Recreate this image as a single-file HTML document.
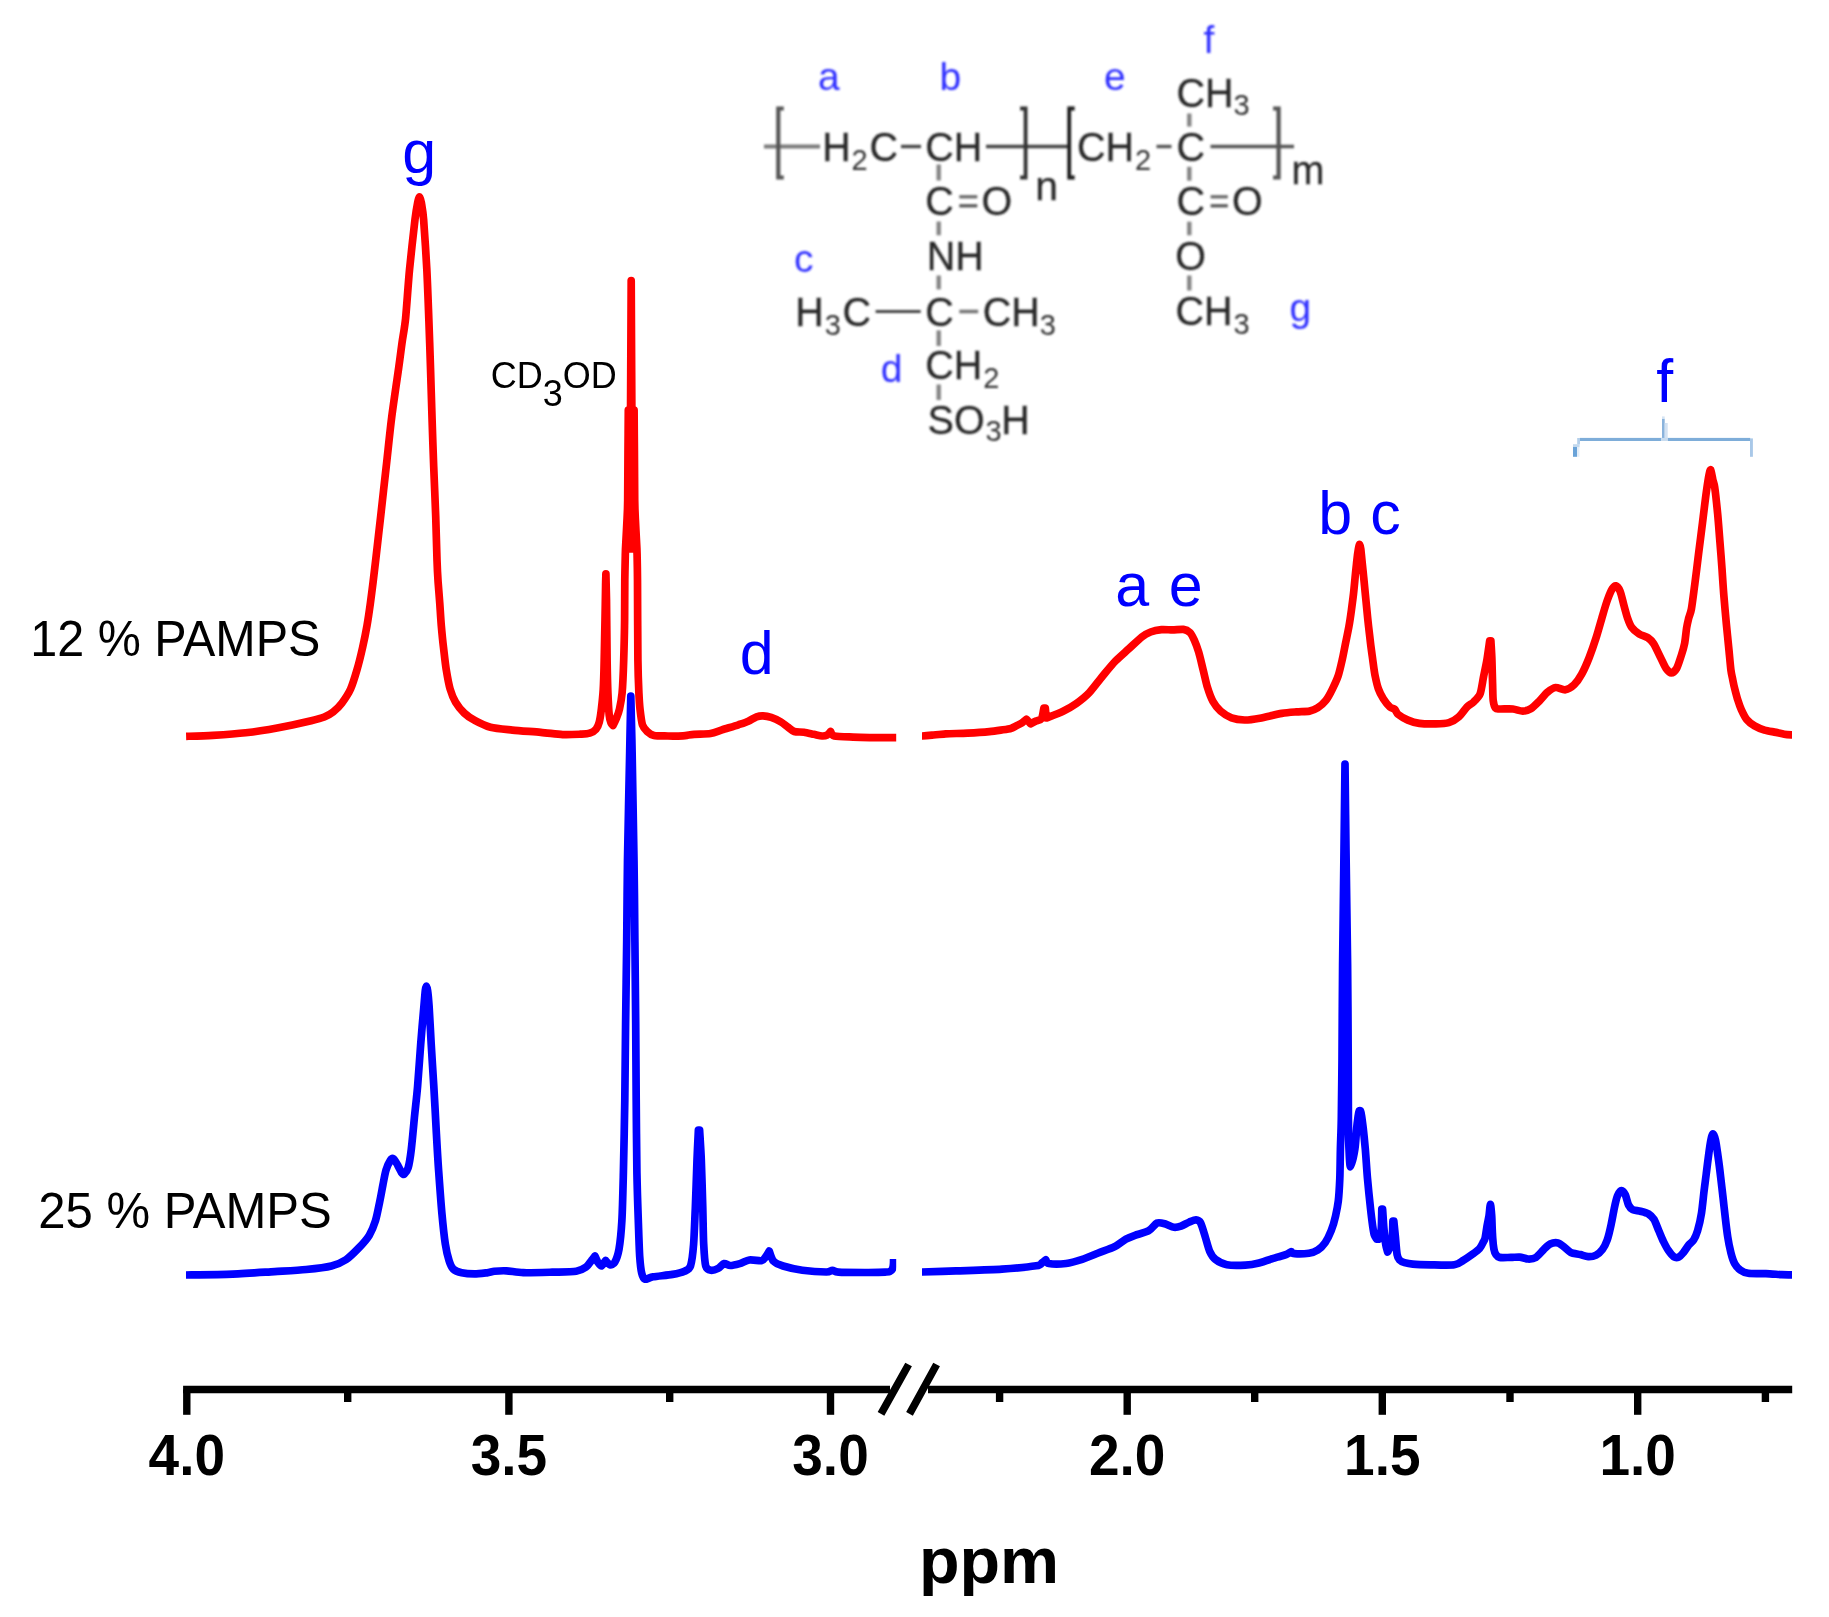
<!DOCTYPE html>
<html lang="en"><head><meta charset="utf-8"><title>1H NMR spectra of PAMPS copolymers</title>
<style>html,body{margin:0;padding:0;background:#fff}body{width:1829px;height:1617px;overflow:hidden}svg{display:block}text{font-family:"Liberation Sans",Arial,Helvetica,sans-serif}.ax{font-weight:bold;font-size:55px;text-anchor:middle;fill:#000}.pk{font-size:61px;fill:#0000ff}.lb{font-size:48.5px;fill:#000}.st{font-size:39.5px;fill:#262626;stroke:#262626;stroke-width:0.25px}.sb{font-size:29px;fill:#333}.sl{font-size:39px;fill:#2e2eff}</style></head><body>
<svg width="1829" height="1617" viewBox="0 0 1829 1617">
<rect width="1829" height="1617" fill="#fff"/>
<defs><filter id="bl" x="-5%" y="-5%" width="110%" height="110%"><feGaussianBlur stdDeviation="0.85"/></filter></defs>
<g filter="url(#bl)">
<g stroke="#666" stroke-width="4" fill="none">
<line x1="764" y1="146.5" x2="820" y2="146.5" stroke="#7a7a7a" stroke-width="3.8"/>
<line x1="901" y1="146.5" x2="921" y2="146.5" stroke="#444" stroke-width="3.4"/>
<line x1="986" y1="146.5" x2="1068" y2="146.5" stroke="#444" stroke-width="3.4"/>
<line x1="1156.5" y1="146.5" x2="1171.5" y2="146.5" stroke="#555" stroke-width="3.4"/>
<line x1="1210.5" y1="146.5" x2="1294" y2="146.5" stroke="#555" stroke-width="3.4"/>
<line x1="938.7" y1="164.5" x2="938.7" y2="180.5" stroke="#858585" stroke-width="4.4"/>
<line x1="938.7" y1="221.5" x2="938.7" y2="235.3" stroke="#858585" stroke-width="4.4"/>
<line x1="938.7" y1="275.5" x2="938.7" y2="289.4" stroke="#858585" stroke-width="4.4"/>
<line x1="938.7" y1="330.4" x2="938.7" y2="346.0" stroke="#858585" stroke-width="4.4"/>
<line x1="938.7" y1="384.5" x2="938.7" y2="400.0" stroke="#858585" stroke-width="4.4"/>
<line x1="1189.3" y1="113.5" x2="1189.3" y2="126.6" stroke="#858585" stroke-width="4.4"/>
<line x1="1189.3" y1="166.8" x2="1189.3" y2="180.7" stroke="#858585" stroke-width="4.4"/>
<line x1="1189.3" y1="221.7" x2="1189.3" y2="235.3" stroke="#858585" stroke-width="4.4"/>
<line x1="1189.3" y1="275.5" x2="1189.3" y2="290.5" stroke="#858585" stroke-width="4.4"/>
<line x1="875.6" y1="311.5" x2="920.7" y2="311.5" stroke="#444" stroke-width="3.2"/>
<line x1="959.3" y1="311.5" x2="978.2" y2="311.5" stroke="#777" stroke-width="3.6"/>
<line x1="959.3" y1="196.8" x2="977.3" y2="196.8" stroke="#666" stroke-width="3.2"/>
<line x1="959.3" y1="205.8" x2="977.3" y2="205.8" stroke="#555" stroke-width="3.2"/>
<line x1="1210.6" y1="196.8" x2="1227.8" y2="196.8" stroke="#666" stroke-width="3.2"/>
<line x1="1210.6" y1="205.8" x2="1227.8" y2="205.8" stroke="#555" stroke-width="3.2"/>
</g>
<path d="M783.8 108.5H778.3V177.5H783.8" fill="none" stroke="#555" stroke-width="4.2"/>
<path d="M1020.1 108.5H1025.6V177.5H1020.1" fill="none" stroke="#333" stroke-width="3.8"/>
<path d="M1074.7 108.5H1069.2V177.5H1074.7" fill="none" stroke="#1a1a1a" stroke-width="3.8"/>
<path d="M1273.1 108.5H1278.6V177.5H1273.1" fill="none" stroke="#555" stroke-width="4.2"/>
<text class="st" transform="translate(822.3 160.7) scale(1 1.04)">H</text>
<text class="sb" transform="translate(851.5 169.6) scale(1 1.04)">2</text>
<text class="st" transform="translate(869.5 160.7) scale(1 1.04)">C</text>
<text class="st" transform="translate(925.3 160.7) scale(1 1.04)">CH</text>
<text class="st" transform="translate(1077.0 160.7) scale(1 1.04)">CH</text>
<text class="sb" transform="translate(1135.0 169.6) scale(1 1.04)">2</text>
<text class="st" transform="translate(1176.6 160.7) scale(1 1.04)">C</text>
<text class="st" x="1035.3" y="200.4" style="font-size:41px">n</text>
<text class="st" transform="translate(1291.5 184.0) scale(1 1.04)">m</text>
<text class="st" transform="translate(1176.6 106.6) scale(1 1.04)">CH</text>
<text class="sb" transform="translate(1233.5 115.3) scale(1 1.04)">3</text>
<text class="st" transform="translate(925.3 215.4) scale(1 1.04)">C</text>
<text class="st" transform="translate(981.5 215.4) scale(1 1.04)">O</text>
<text class="st" transform="translate(1176.6 215.4) scale(1 1.04)">C</text>
<text class="st" transform="translate(1232.0 215.4) scale(1 1.04)">O</text>
<text class="st" transform="translate(926.8 269.7) scale(1 1.04)">NH</text>
<text class="st" transform="translate(1175.3 270.0) scale(1 1.04)">O</text>
<text class="st" transform="translate(795.3 326.0) scale(1 1.04)">H</text>
<text class="sb" transform="translate(824.8 334.6) scale(1 1.04)">3</text>
<text class="st" transform="translate(842.5 326.0) scale(1 1.04)">C</text>
<text class="st" transform="translate(925.3 326.0) scale(1 1.04)">C</text>
<text class="st" transform="translate(982.7 326.0) scale(1 1.04)">CH</text>
<text class="sb" transform="translate(1039.7 334.6) scale(1 1.04)">3</text>
<text class="st" transform="translate(1175.4 325.0) scale(1 1.04)">CH</text>
<text class="sb" transform="translate(1233.6 333.8) scale(1 1.04)">3</text>
<text class="st" transform="translate(925.3 378.8) scale(1 1.04)">CH</text>
<text class="sb" transform="translate(983.2 388.2) scale(1 1.04)">2</text>
<text class="st" transform="translate(927.6 433.7) scale(1 1.04)">SO</text>
<text class="sb" transform="translate(985.5 441.2) scale(1 1.04)">3</text>
<text class="st" transform="translate(1001.3 433.7) scale(1 1.04)">H</text>
<text class="sl" transform="translate(818.0 89.6) scale(1 1.00)">a</text>
<text class="sl" transform="translate(939.5 89.6) scale(1 1.00)">b</text>
<text class="sl" transform="translate(1104.0 89.6) scale(1 1.00)">e</text>
<text class="sl" transform="translate(1203.5 52.6) scale(1 1.00)">f</text>
<text class="sl" transform="translate(794.0 272.0) scale(1 1.00)">c</text>
<text class="sl" transform="translate(880.8 382.0) scale(1 1.00)">d</text>
<text class="sl" transform="translate(1289.5 321.3) scale(1 1.00)">g</text>
</g>
<clipPath id="cl"><rect x="185.9" y="0" width="710.3" height="1340"/></clipPath>
<clipPath id="cr"><rect x="921.9" y="0" width="870.2" height="1340"/></clipPath>
<g clip-path="url(#cl)"><path d="M186.1 736.3C189.7 736.2 204.9 735.9 212.8 735.4C220.7 734.9 236.9 733.8 245.6 732.8C254.3 731.8 269.7 729.3 278.4 727.7C287.1 726.1 305.1 722.1 311.2 720.7C317.3 719.3 321.4 718.2 324.3 717.0C327.2 715.8 330.8 713.8 333.1 712.0C335.4 710.2 339.5 706.3 341.8 703.2C344.1 700.1 348.6 693.5 350.6 689.0C352.6 684.5 355.5 674.9 357.1 669.4C358.7 663.9 361.3 653.3 362.6 647.5C363.9 641.7 366.0 631.4 367.0 625.6C368.0 619.8 369.5 609.5 370.3 603.7C371.1 597.9 372.4 587.7 373.1 581.9C373.8 576.1 374.7 568.8 375.7 560.0C376.7 551.2 379.3 528.5 380.7 516.1C382.1 503.7 384.7 479.9 386.2 466.7C387.7 453.5 390.0 430.4 391.7 417.2C393.4 404.0 397.3 377.7 398.7 367.8C400.1 357.9 401.1 349.6 402.0 343.0C402.9 336.4 404.6 328.2 405.6 318.3C406.6 308.4 408.3 282.1 409.6 268.9C410.9 255.7 413.9 228.2 415.0 219.4C416.1 210.6 417.0 206.0 417.6 203.0C418.2 200.0 419.0 196.8 419.5 196.8C420.0 196.8 420.9 200.0 421.4 203.0C421.9 206.0 422.9 210.6 423.6 219.4C424.3 228.2 426.1 255.7 426.8 268.9C427.5 282.1 428.3 305.1 428.8 318.3C429.3 331.5 430.1 354.6 430.5 367.8C430.9 381.0 431.6 404.0 432.0 417.2C432.4 430.4 433.2 453.5 433.7 466.7C434.2 479.9 435.3 503.7 435.7 516.1C436.1 528.5 436.7 551.2 437.0 560.0C437.3 568.8 437.7 576.1 438.1 581.9C438.5 587.7 439.4 597.9 439.8 603.7C440.2 609.5 440.8 619.8 441.3 625.6C441.8 631.4 442.8 641.7 443.5 647.5C444.2 653.3 445.3 663.9 446.2 669.4C447.1 674.9 448.8 684.6 450.1 689.0C451.4 693.4 453.7 699.0 455.6 702.2C457.5 705.4 461.7 710.6 464.3 713.1C466.9 715.6 471.7 718.8 475.2 720.7C478.7 722.6 485.5 726.0 490.5 727.3C495.5 728.6 505.7 729.4 512.4 730.1C519.1 730.8 534.1 731.7 540.8 732.3C547.5 732.9 557.5 734.3 562.7 734.6C567.9 734.9 576.4 734.4 580.0 734.2C583.6 734.0 587.6 733.9 589.7 733.2C591.8 732.5 594.7 730.7 596.0 729.2C597.3 727.7 598.6 724.8 599.3 722.0C600.0 719.2 601.0 712.3 601.5 708.0C602.0 703.7 602.8 696.4 603.2 690.0C603.6 683.6 604.0 669.3 604.2 660.0C604.4 650.7 604.8 630.0 605.0 620.0C605.2 610.0 605.5 591.2 605.6 585.0C605.7 578.8 605.9 575.3 605.9 573.8C606.0 577.3 606.3 588.5 606.5 600.0C606.7 611.5 606.9 647.6 607.1 660.0C607.3 672.4 607.6 685.7 607.9 693.0C608.2 700.3 608.8 711.0 609.2 715.0C609.6 719.0 610.5 721.6 611.0 723.0C611.5 724.4 612.7 725.2 613.0 725.5C613.5 724.5 615.6 720.2 616.5 718.0C617.4 715.8 618.8 712.3 619.5 709.0C620.2 705.7 621.5 699.5 622.1 693.0C622.7 686.5 623.4 669.7 623.7 660.0C624.0 650.3 624.5 630.7 624.6 620.0C624.7 609.3 624.7 588.7 624.8 580.0C624.9 571.3 625.2 559.9 625.3 555.0C625.4 550.1 625.7 544.6 625.8 543.0C626.0 539.9 626.7 525.7 627.0 520.0C627.3 514.3 627.6 509.3 627.7 500.0C627.8 490.7 627.9 462.0 628.0 450.0C628.1 438.0 628.3 415.3 628.3 410.0C628.4 419.3 628.8 461.5 629.0 480.0C629.2 498.5 629.7 539.8 629.8 549.0C629.9 531.8 630.3 455.8 630.5 420.0C630.7 384.2 631.1 299.1 631.2 280.5C631.3 299.1 631.7 384.2 631.9 420.0C632.1 455.8 632.5 531.8 632.6 549.0C632.7 539.8 633.2 498.5 633.4 480.0C633.6 461.5 634.0 419.3 634.1 410.0C634.1 415.3 634.3 438.0 634.4 450.0C634.5 462.0 634.6 490.7 634.7 500.0C634.8 509.3 635.1 514.3 635.4 520.0C635.7 525.7 636.4 539.9 636.6 543.0C636.7 544.6 637.0 550.0 637.1 555.0C637.2 560.0 637.4 566.4 637.5 580.4C637.6 594.4 637.7 645.0 637.9 660.0C638.1 675.0 638.6 686.5 638.9 693.0C639.2 699.5 639.5 704.7 640.0 709.0C640.5 713.3 641.5 722.0 642.5 725.0C643.5 728.0 645.8 730.2 647.3 731.6C648.8 733.0 651.2 734.8 654.0 735.4C656.8 736.0 664.1 735.9 668.0 736.0C671.9 736.1 679.5 736.0 683.0 735.8C686.5 735.6 690.4 734.6 694.1 734.3C697.8 734.0 706.8 734.1 710.5 733.5C714.2 732.9 718.3 731.1 722.0 729.9C725.7 728.7 734.9 726.0 738.4 724.8C741.9 723.6 745.9 722.3 748.3 721.2C750.7 720.1 754.5 717.5 756.5 716.8C758.5 716.1 761.0 715.7 763.0 715.8C765.0 715.9 768.8 716.6 771.2 717.4C773.6 718.2 778.8 720.7 781.0 722.0C783.2 723.3 785.8 725.6 787.6 726.9C789.4 728.2 792.0 730.8 794.2 731.5C796.4 732.2 801.4 731.8 804.0 732.2C806.6 732.6 811.5 733.8 813.9 734.3C816.3 734.8 820.4 735.9 822.1 736.0C823.8 736.1 825.9 735.7 827.0 735.1C828.1 734.5 830.1 732.0 830.6 731.5C831.1 732.1 831.4 735.3 834.4 736.0C837.4 736.7 848.5 736.9 853.2 737.1C857.9 737.3 865.2 737.5 869.6 737.6C874.0 737.7 882.1 737.6 886.0 737.6C889.9 737.6 897.3 737.6 899.0 737.6" fill="none" stroke="#ff0000" stroke-width="7.7" stroke-linejoin="round" stroke-linecap="butt"/></g>
<g clip-path="url(#cr)"><path d="M918.0 736.2C918.5 736.2 920.1 736.1 922.0 736.0C923.9 735.9 928.9 735.5 932.0 735.2C935.1 734.9 940.9 734.1 945.6 733.8C950.3 733.5 961.7 733.5 967.5 733.2C973.3 732.9 984.7 732.1 989.4 731.6C994.1 731.1 1000.1 730.2 1003.0 729.8C1005.9 729.4 1009.4 728.9 1011.2 728.3C1013.0 727.7 1015.3 726.3 1016.7 725.6C1018.1 724.9 1020.7 723.7 1022.0 722.8C1023.3 721.9 1025.9 719.7 1026.5 719.2L1030.5 723.8C1031.2 723.4 1034.5 721.7 1036.0 721.0C1037.5 720.3 1040.4 720.3 1041.5 718.6C1042.6 716.9 1043.6 709.4 1043.9 708.0L1045.3 708.0L1046.2 718.0C1046.5 717.9 1045.9 718.2 1048.2 717.3C1050.5 716.4 1059.4 713.0 1063.1 711.2C1066.8 709.4 1072.7 706.1 1076.2 703.6C1079.7 701.1 1085.8 696.3 1089.3 692.6C1092.8 688.9 1099.0 680.4 1102.5 676.2C1106.0 672.0 1112.1 664.5 1115.6 660.9C1119.1 657.3 1125.2 652.1 1128.7 648.9C1132.2 645.7 1138.9 639.2 1141.8 636.9C1144.7 634.6 1148.0 633.0 1150.6 632.0C1153.2 631.0 1158.6 629.9 1161.5 629.6C1164.4 629.3 1169.5 629.9 1172.4 629.9C1175.3 629.9 1181.1 629.1 1183.4 629.4C1185.7 629.7 1188.4 631.1 1189.9 632.5C1191.4 633.9 1193.1 637.5 1194.3 640.1C1195.5 642.7 1197.5 648.3 1198.7 652.2C1199.9 656.1 1201.9 665.0 1203.1 669.7C1204.3 674.4 1206.1 683.0 1207.4 687.2C1208.7 691.4 1211.1 698.2 1212.9 701.4C1214.7 704.6 1218.1 709.0 1220.6 711.2C1223.1 713.4 1228.3 716.6 1231.5 717.8C1234.7 719.0 1240.8 719.9 1244.6 720.0C1248.4 720.1 1254.9 719.1 1259.9 718.2C1264.9 717.3 1276.9 714.2 1281.8 713.4C1286.7 712.6 1292.7 712.2 1296.4 711.9C1300.1 711.6 1306.7 711.6 1309.5 711.1C1312.3 710.6 1315.5 709.2 1317.7 707.8C1319.9 706.4 1323.9 702.9 1325.9 700.4C1327.9 697.9 1330.9 692.2 1332.5 688.9C1334.1 685.6 1336.9 679.7 1338.2 675.8C1339.5 671.9 1341.3 663.8 1342.3 659.4C1343.3 655.0 1344.7 647.4 1345.6 643.0C1346.5 638.6 1348.1 631.0 1348.9 626.6C1349.7 622.2 1350.8 614.6 1351.4 610.2C1352.0 605.8 1353.0 598.2 1353.5 593.8C1354.0 589.4 1354.7 581.8 1355.1 577.4C1355.5 573.0 1356.4 564.8 1356.8 561.0C1357.2 557.2 1358.0 551.2 1358.4 549.0C1358.8 546.8 1359.3 544.4 1359.6 544.4C1359.9 544.4 1360.5 546.8 1360.8 549.0C1361.1 551.2 1361.6 557.2 1362.0 561.0C1362.4 564.8 1363.3 573.0 1363.7 577.4C1364.1 581.8 1364.9 589.4 1365.3 593.8C1365.7 598.2 1366.5 605.8 1366.9 610.2C1367.3 614.6 1368.1 622.2 1368.6 626.6C1369.1 631.0 1370.0 638.6 1370.5 643.0C1371.0 647.4 1372.1 655.0 1372.7 659.4C1373.3 663.8 1374.3 671.9 1375.1 675.8C1375.9 679.7 1377.3 685.8 1378.4 688.9C1379.5 692.0 1381.8 696.4 1383.3 698.8C1384.8 701.2 1388.4 705.6 1389.9 707.0C1391.4 708.4 1393.7 708.4 1394.8 709.4C1395.9 710.4 1396.4 713.0 1398.1 714.4C1399.8 715.8 1405.1 718.9 1407.9 720.1C1410.7 721.3 1415.7 722.9 1419.4 723.4C1423.1 723.9 1431.9 724.0 1435.8 723.9C1439.7 723.8 1445.8 723.5 1448.9 722.6C1452.0 721.7 1456.4 718.9 1458.8 716.8C1461.2 714.7 1465.0 709.0 1467.0 707.0C1469.0 705.0 1471.8 703.8 1473.5 702.1C1475.2 700.4 1478.8 697.2 1480.1 693.9C1481.4 690.6 1482.5 682.1 1483.4 677.5C1484.3 672.9 1486.2 664.3 1487.0 659.4C1487.8 654.5 1489.3 643.3 1489.7 640.8L1490.9 640.8C1491.0 643.3 1491.7 653.6 1491.9 659.4C1492.1 665.2 1492.4 678.5 1492.6 684.0C1492.8 689.5 1492.8 697.2 1493.2 700.4C1493.6 703.6 1494.8 707.2 1495.7 708.3C1496.6 709.4 1497.5 708.9 1499.8 709.0C1502.1 709.1 1509.8 708.7 1512.9 709.0C1516.0 709.3 1520.4 711.2 1522.8 711.1C1525.2 711.0 1528.8 709.9 1531.0 708.6C1533.2 707.3 1537.0 703.4 1539.2 701.2C1541.4 699.0 1545.2 694.0 1547.4 692.2C1549.6 690.4 1553.2 687.8 1555.6 687.5C1558.0 687.2 1562.9 690.2 1565.4 689.8C1567.9 689.4 1571.9 686.9 1574.1 684.8C1576.3 682.7 1579.7 677.9 1581.7 674.2C1583.7 670.5 1587.5 661.9 1589.4 657.0C1591.3 652.1 1594.3 643.4 1596.1 637.8C1597.9 632.2 1601.3 619.9 1602.8 614.8C1604.3 609.7 1606.3 603.0 1607.6 599.5C1608.9 596.0 1611.3 590.4 1612.4 588.6C1613.5 586.8 1614.7 585.5 1615.7 585.8C1616.7 586.1 1619.0 588.6 1620.1 591.2C1621.2 593.8 1622.9 601.5 1623.9 605.2C1624.9 608.9 1626.7 615.7 1627.7 618.6C1628.7 621.5 1630.1 625.2 1631.6 627.3C1633.1 629.4 1637.0 632.6 1639.2 634.0C1641.4 635.4 1646.0 636.5 1647.9 637.8C1649.8 639.1 1651.9 641.0 1653.6 643.6C1655.3 646.2 1658.6 653.7 1660.3 657.0C1662.0 660.3 1664.6 666.4 1666.1 668.5C1667.6 670.6 1669.8 672.9 1671.2 672.9C1672.6 672.9 1675.2 670.9 1676.6 668.5C1678.0 666.1 1680.3 658.4 1681.4 655.1C1682.5 651.8 1683.9 647.2 1684.6 643.6C1685.3 640.0 1686.1 631.3 1686.6 628.0C1687.1 624.7 1688.0 621.0 1688.6 618.5C1689.2 616.0 1690.6 613.6 1691.4 609.0C1692.2 604.4 1693.8 591.6 1694.8 584.2C1695.8 576.8 1697.6 561.7 1698.6 553.5C1699.6 545.3 1701.5 531.0 1702.5 522.8C1703.5 514.6 1705.4 498.6 1706.3 492.2C1707.2 485.8 1708.4 478.0 1709.0 475.0C1709.6 472.0 1710.2 469.2 1710.7 469.8C1711.2 470.4 1712.3 477.2 1712.8 479.5C1713.3 481.8 1714.0 482.5 1714.7 487.2C1715.4 491.9 1717.0 507.1 1717.7 514.4C1718.4 521.7 1719.3 534.3 1719.9 541.6C1720.5 548.9 1721.5 561.5 1722.0 568.8C1722.5 576.1 1723.3 588.8 1723.9 596.1C1724.5 603.4 1725.6 616.0 1726.3 623.3C1727.0 630.6 1728.4 644.3 1729.0 650.5C1729.6 656.7 1730.4 666.1 1730.9 670.0C1731.4 673.9 1732.3 677.3 1732.8 679.9C1733.3 682.5 1734.3 687.2 1735.0 689.8C1735.7 692.4 1736.9 697.1 1737.7 699.7C1738.5 702.3 1740.1 707.0 1741.3 709.6C1742.5 712.2 1744.9 717.3 1746.7 719.5C1748.5 721.7 1752.2 724.5 1754.6 725.9C1757.0 727.3 1761.9 729.3 1764.5 730.1C1767.1 730.9 1771.8 731.6 1774.4 732.1C1777.0 732.6 1782.0 733.8 1784.3 734.2C1786.6 734.6 1790.3 734.8 1791.9 734.9C1793.5 735.0 1795.5 735.0 1796.0 735.0" fill="none" stroke="#ff0000" stroke-width="7.7" stroke-linejoin="round" stroke-linecap="butt"/></g>
<g clip-path="url(#cl)"><path d="M185.9 1275.0C192.1 1274.9 220.8 1274.6 232.6 1274.1C244.4 1273.6 264.8 1272.2 274.6 1271.6C284.4 1271.0 298.6 1270.3 306.2 1269.5C313.8 1268.7 326.1 1267.2 331.4 1265.9C336.7 1264.6 342.5 1262.0 346.1 1259.6C349.7 1257.2 355.6 1251.2 358.7 1248.0C361.8 1244.8 367.0 1239.0 369.2 1235.4C371.4 1231.8 374.1 1225.2 375.5 1220.7C376.9 1216.2 378.7 1206.6 379.7 1201.8C380.7 1197.0 382.1 1189.2 382.9 1185.0C383.7 1180.8 385.0 1173.5 386.0 1170.2C387.0 1166.9 389.3 1162.0 390.3 1160.5C391.3 1159.0 392.4 1158.2 393.4 1158.8C394.4 1159.4 396.5 1163.1 397.6 1165.0C398.7 1166.9 400.9 1171.8 401.8 1173.0C402.7 1174.2 403.5 1174.7 404.3 1174.0C405.1 1173.3 407.2 1171.4 408.1 1168.1C409.0 1164.8 410.5 1155.9 411.3 1149.2C412.1 1142.5 413.6 1126.1 414.4 1117.7C415.2 1109.3 416.8 1096.0 417.6 1086.2C418.4 1076.4 419.9 1054.8 420.7 1044.1C421.5 1033.4 423.3 1013.4 423.9 1006.3C424.5 999.2 425.0 993.2 425.3 990.5C425.6 987.8 426.1 986.0 426.4 986.0C426.7 986.0 427.2 987.8 427.6 990.5C428.0 993.2 428.6 999.2 429.1 1006.3C429.6 1013.4 430.6 1033.4 431.2 1044.1C431.8 1054.8 433.1 1075.0 433.8 1086.2C434.5 1097.4 435.5 1117.0 436.1 1128.2C436.7 1139.4 437.8 1159.0 438.6 1170.2C439.4 1181.4 440.9 1202.5 441.8 1212.3C442.7 1222.1 444.3 1237.3 445.3 1243.8C446.3 1250.3 448.0 1257.3 449.1 1260.7C450.2 1264.1 451.6 1267.5 453.3 1269.1C455.0 1270.7 458.9 1272.2 461.7 1272.8C464.5 1273.4 471.0 1273.9 474.4 1273.9C477.8 1273.9 484.3 1273.1 487.0 1272.8C489.7 1272.5 491.8 1271.6 494.4 1271.3C497.0 1271.0 502.6 1270.6 506.5 1270.8C510.4 1271.0 517.2 1272.5 523.3 1272.7C529.4 1272.9 545.1 1272.4 552.2 1272.2C559.3 1272.0 571.7 1272.0 576.2 1271.3C580.7 1270.6 583.8 1268.7 585.9 1267.2C588.0 1265.7 590.7 1261.5 591.9 1260.0C593.1 1258.5 594.6 1256.5 595.0 1256.0C595.4 1256.9 597.0 1261.1 597.9 1262.4C598.8 1263.7 600.5 1266.3 601.5 1266.0C602.5 1265.7 605.1 1261.2 605.6 1260.5C606.2 1261.1 608.7 1264.5 609.9 1264.8C611.1 1265.1 613.5 1264.5 614.7 1262.4C615.9 1260.3 618.0 1254.8 619.0 1249.2C620.0 1243.6 621.3 1230.6 621.9 1220.3C622.5 1210.0 623.0 1188.2 623.4 1172.2C623.8 1156.2 624.5 1119.8 624.8 1100.0C625.1 1080.2 625.3 1044.6 625.6 1023.5C625.9 1002.4 626.4 963.7 626.7 941.9C627.0 920.1 627.1 885.7 627.5 860.3C627.9 834.9 629.3 773.5 629.7 751.6C630.1 729.7 630.7 703.6 630.8 696.2C631.0 703.6 631.7 729.7 632.1 751.6C632.5 773.5 633.6 834.9 634.0 860.3C634.4 885.7 634.7 920.1 634.9 941.9C635.1 963.7 635.5 1002.4 635.7 1023.5C635.9 1044.6 636.0 1080.2 636.2 1100.0C636.4 1119.8 636.6 1156.2 636.9 1172.2C637.2 1188.2 637.9 1209.1 638.3 1220.3C638.7 1231.5 639.2 1249.3 639.7 1256.4C640.2 1263.5 641.0 1270.2 641.7 1273.2C642.4 1276.2 643.3 1278.7 644.8 1279.2C646.3 1279.7 649.5 1277.4 653.2 1276.8C656.9 1276.2 668.3 1275.1 672.5 1274.4C676.7 1273.7 682.1 1272.4 684.5 1271.3C686.9 1270.2 689.3 1269.6 690.5 1266.0C691.7 1262.4 693.0 1252.0 693.6 1244.3C694.2 1236.6 694.8 1219.5 695.3 1208.3C695.8 1197.1 696.6 1170.5 697.0 1160.1C697.4 1149.7 698.2 1134.0 698.4 1130.0L699.6 1130.0C699.8 1134.0 700.9 1149.7 701.3 1160.1C701.7 1170.5 702.5 1197.1 702.8 1208.3C703.1 1219.5 703.3 1236.6 703.7 1244.3C704.1 1252.0 704.7 1262.5 705.7 1266.0C706.7 1269.5 709.2 1270.0 710.9 1270.3C712.6 1270.6 716.4 1269.3 718.2 1268.4C720.0 1267.5 722.6 1264.0 724.2 1263.6C725.8 1263.2 728.1 1265.5 730.2 1265.5C732.3 1265.5 737.2 1264.3 739.8 1263.6C742.4 1262.9 746.5 1260.4 749.4 1260.0C752.3 1259.6 759.4 1261.0 761.5 1260.7C763.6 1260.4 764.1 1258.9 765.1 1257.6C766.1 1256.3 768.7 1251.9 769.2 1251.0C769.8 1252.4 771.6 1259.2 773.5 1261.2C775.4 1263.2 779.2 1264.8 783.1 1266.0C787.0 1267.2 796.6 1269.5 802.4 1270.3C808.2 1271.1 822.4 1272.0 826.4 1272.0C830.4 1272.0 830.8 1270.3 832.4 1270.3C834.0 1270.3 834.2 1271.9 838.5 1272.2C842.8 1272.5 858.5 1272.5 864.9 1272.5C871.3 1272.5 883.3 1272.1 886.6 1272.0C889.9 1271.9 889.2 1271.8 890.0 1271.4C890.8 1271.0 891.9 1270.1 892.3 1269.3C892.7 1268.5 893.1 1266.9 893.3 1265.5C893.5 1264.1 893.6 1259.9 893.6 1259.0" fill="none" stroke="#0000ff" stroke-width="7.7" stroke-linejoin="round" stroke-linecap="butt"/></g>
<g clip-path="url(#cr)"><path d="M918.0 1272.1C918.5 1272.1 916.8 1272.2 921.9 1272.0C927.0 1271.8 945.2 1271.3 955.9 1270.9C966.6 1270.5 991.2 1269.8 1001.9 1269.1C1012.6 1268.4 1031.0 1266.6 1036.3 1265.8C1041.6 1265.0 1040.7 1263.7 1042.0 1262.9C1043.3 1262.1 1045.4 1260.2 1045.9 1259.8C1046.3 1260.3 1046.2 1263.0 1048.9 1263.5C1051.6 1264.0 1061.7 1264.0 1066.1 1263.5C1070.5 1263.0 1077.9 1260.8 1082.2 1259.4C1086.5 1258.0 1094.0 1254.7 1098.3 1253.0C1102.6 1251.3 1110.7 1248.6 1114.4 1246.8C1118.1 1245.0 1123.2 1240.7 1125.9 1239.2C1128.6 1237.7 1131.9 1236.4 1135.0 1235.3C1138.1 1234.2 1145.9 1232.3 1148.8 1230.7C1151.7 1229.1 1154.8 1224.0 1156.9 1223.1C1159.0 1222.2 1162.6 1223.2 1164.9 1223.8C1167.2 1224.4 1172.0 1227.0 1174.1 1227.3C1176.2 1227.6 1179.0 1226.8 1181.0 1226.1C1183.0 1225.4 1187.0 1223.0 1189.0 1222.2C1191.0 1221.4 1194.4 1219.8 1195.9 1219.9C1197.4 1220.0 1199.3 1220.5 1200.5 1222.7C1201.7 1224.9 1203.9 1232.6 1205.1 1236.4C1206.3 1240.2 1208.3 1248.3 1209.7 1251.4C1211.1 1254.5 1213.1 1257.6 1215.4 1259.4C1217.7 1261.2 1222.9 1263.9 1226.9 1264.7C1230.9 1265.5 1241.0 1265.3 1245.3 1265.1C1249.6 1264.9 1254.7 1264.0 1259.0 1262.9C1263.3 1261.8 1273.7 1258.2 1277.4 1257.1C1281.1 1256.0 1284.8 1255.1 1286.6 1254.4C1288.4 1253.7 1290.6 1252.0 1291.2 1251.6C1291.7 1251.9 1292.2 1253.5 1294.6 1253.7C1297.0 1253.9 1305.8 1253.7 1308.9 1253.2C1312.0 1252.7 1315.6 1251.4 1317.8 1250.0C1320.0 1248.6 1323.4 1245.2 1325.2 1242.6C1327.0 1240.0 1329.8 1234.3 1331.2 1230.7C1332.6 1227.1 1334.7 1219.8 1335.6 1215.8C1336.5 1211.8 1337.7 1205.9 1338.3 1201.0C1338.9 1196.1 1339.5 1185.6 1339.8 1178.7C1340.1 1171.8 1340.2 1157.0 1340.4 1149.1C1340.6 1141.2 1341.1 1131.3 1341.3 1119.4C1341.5 1107.5 1341.8 1080.6 1342.0 1060.0C1342.2 1039.4 1342.3 993.0 1342.6 965.0C1342.9 937.0 1343.7 876.8 1344.0 850.0C1344.3 823.2 1344.9 775.5 1345.0 764.0C1345.1 775.5 1345.7 823.2 1346.0 850.0C1346.3 876.8 1347.3 937.0 1347.6 965.0C1347.9 993.0 1348.1 1039.4 1348.2 1060.0C1348.3 1080.6 1348.3 1107.5 1348.4 1119.4C1348.5 1131.3 1348.7 1142.7 1349.0 1149.0C1349.3 1155.3 1349.7 1166.9 1350.5 1166.9C1351.3 1166.9 1354.1 1154.2 1354.9 1149.0C1355.7 1143.8 1356.3 1132.3 1356.7 1128.0C1357.1 1123.7 1357.8 1118.7 1358.1 1116.5C1358.4 1114.3 1358.8 1111.9 1359.1 1111.2C1359.4 1110.5 1360.3 1110.5 1360.6 1111.2C1360.9 1111.9 1361.4 1114.3 1361.7 1116.5C1362.0 1118.7 1362.7 1123.7 1363.2 1128.0C1363.7 1132.3 1364.7 1142.2 1365.3 1149.0C1365.9 1155.8 1366.8 1170.8 1367.5 1178.7C1368.2 1186.6 1369.8 1202.1 1370.5 1208.4C1371.2 1214.7 1372.2 1222.7 1372.7 1226.2C1373.2 1229.7 1373.8 1233.3 1374.3 1235.0C1374.8 1236.7 1376.3 1238.5 1376.6 1239.0C1377.0 1238.9 1379.0 1239.7 1379.6 1238.2C1380.2 1236.7 1381.0 1231.9 1381.3 1228.0C1381.6 1224.1 1381.7 1211.7 1381.8 1209.2L1382.6 1209.2C1382.8 1211.8 1383.5 1223.6 1383.9 1228.4C1384.3 1233.2 1385.3 1241.9 1385.8 1245.0C1386.3 1248.1 1387.4 1251.1 1387.6 1252.0C1388.0 1251.2 1389.8 1248.3 1390.4 1246.0C1391.0 1243.7 1392.1 1238.3 1392.4 1235.0C1392.7 1231.7 1392.8 1222.9 1392.9 1221.0L1393.8 1221.0C1394.0 1223.3 1395.1 1233.5 1395.5 1238.0C1395.9 1242.5 1396.6 1251.6 1397.1 1254.5C1397.6 1257.4 1398.5 1258.9 1399.5 1260.0C1400.5 1261.1 1402.7 1262.1 1404.5 1262.6C1406.3 1263.1 1409.3 1263.8 1412.8 1264.1C1416.3 1264.4 1425.1 1264.7 1430.6 1264.8C1436.1 1264.9 1450.0 1265.4 1454.4 1264.8C1458.8 1264.2 1460.9 1261.8 1463.3 1260.4C1465.7 1259.0 1470.0 1256.0 1472.2 1254.4C1474.4 1252.8 1478.1 1250.2 1479.6 1248.5C1481.1 1246.8 1482.6 1243.4 1483.3 1242.0C1484.0 1240.6 1484.6 1240.2 1485.1 1238.1C1485.6 1236.0 1486.5 1229.2 1487.0 1226.2C1487.5 1223.2 1488.5 1218.7 1489.0 1215.8C1489.5 1212.9 1490.0 1204.4 1490.4 1204.4C1490.8 1204.4 1491.5 1212.9 1491.7 1215.8C1491.9 1218.7 1492.0 1223.2 1492.1 1226.2C1492.2 1229.2 1492.5 1235.1 1492.7 1238.1C1492.9 1241.1 1493.5 1246.8 1493.9 1249.0C1494.3 1251.2 1495.1 1253.4 1495.9 1254.5C1496.7 1255.6 1497.6 1257.0 1499.6 1257.4C1501.6 1257.8 1508.1 1257.4 1510.8 1257.4C1513.5 1257.4 1517.4 1256.9 1519.7 1257.1C1522.0 1257.3 1525.7 1258.9 1527.9 1259.0C1530.1 1259.1 1533.8 1258.8 1535.9 1257.5C1538.0 1256.2 1541.9 1251.3 1543.8 1249.5C1545.7 1247.7 1548.2 1244.9 1550.1 1244.0C1552.0 1243.1 1556.2 1242.5 1558.1 1242.9C1560.0 1243.3 1562.7 1245.9 1564.4 1247.2C1566.1 1248.5 1568.6 1251.4 1570.7 1252.4C1572.8 1253.4 1578.0 1254.0 1580.3 1254.6C1582.6 1255.2 1586.1 1256.6 1588.2 1256.7C1590.3 1256.8 1594.2 1256.1 1596.1 1255.1C1598.0 1254.1 1600.9 1251.5 1602.4 1249.5C1603.9 1247.5 1606.0 1243.4 1607.2 1240.0C1608.4 1236.6 1610.3 1228.4 1611.2 1224.2C1612.1 1220.0 1613.5 1212.1 1614.3 1208.3C1615.1 1204.5 1616.5 1198.1 1617.5 1195.8C1618.5 1193.5 1620.4 1190.8 1621.5 1190.7C1622.6 1190.6 1624.5 1193.1 1625.4 1195.0C1626.3 1196.9 1627.6 1203.2 1628.6 1205.1C1629.6 1207.0 1631.0 1208.8 1632.6 1209.6C1634.2 1210.4 1638.4 1210.6 1640.5 1211.2C1642.6 1211.8 1646.6 1212.8 1648.4 1213.9C1650.2 1215.0 1652.6 1217.2 1654.0 1219.4C1655.4 1221.6 1657.4 1227.5 1658.7 1230.5C1660.0 1233.5 1662.2 1239.0 1663.5 1241.6C1664.8 1244.2 1666.9 1248.3 1668.3 1250.3C1669.7 1252.3 1672.4 1255.8 1673.8 1256.7C1675.2 1257.6 1677.3 1257.6 1678.6 1257.1C1679.9 1256.6 1681.9 1254.3 1683.3 1252.7C1684.7 1251.1 1687.5 1246.5 1688.9 1244.8C1690.3 1243.1 1692.4 1241.9 1693.6 1240.0C1694.8 1238.1 1696.5 1234.1 1697.6 1230.5C1698.7 1226.9 1700.7 1218.2 1701.5 1213.1C1702.3 1208.0 1703.3 1197.7 1703.9 1192.4C1704.5 1187.1 1705.7 1178.5 1706.3 1173.4C1706.9 1168.3 1708.1 1159.0 1708.7 1154.4C1709.3 1149.8 1710.5 1141.7 1711.1 1139.0C1711.7 1136.3 1712.5 1133.8 1713.1 1134.0C1713.7 1134.2 1714.9 1137.4 1715.6 1140.5C1716.3 1143.6 1717.5 1152.8 1718.2 1157.6C1718.9 1162.4 1720.0 1171.3 1720.6 1176.6C1721.2 1181.9 1722.4 1191.7 1723.0 1197.2C1723.6 1202.7 1724.7 1212.5 1725.3 1217.8C1725.9 1223.1 1727.0 1232.1 1727.7 1236.8C1728.4 1241.5 1730.0 1249.1 1730.9 1252.7C1731.8 1256.3 1733.5 1261.5 1734.8 1263.8C1736.1 1266.1 1738.6 1268.8 1740.4 1270.1C1742.2 1271.4 1744.9 1272.8 1748.3 1273.3C1751.7 1273.8 1761.4 1273.4 1765.8 1273.6C1770.2 1273.8 1778.1 1274.4 1781.6 1274.6C1785.1 1274.8 1790.0 1274.8 1791.9 1274.9C1793.8 1275.0 1795.5 1275.0 1796.0 1275.0" fill="none" stroke="#0000ff" stroke-width="7.7" stroke-linejoin="round" stroke-linecap="butt"/></g>
<rect x="1579.8" y="437.9" width="170.4" height="3.1" fill="#7eadd9"/>
<rect x="1577.2" y="438.0" width="2.8" height="6.4" fill="#b4cfea"/>
<rect x="1573.0" y="444.2" width="6.6" height="3.0" fill="#c3d9ee"/>
<rect x="1573.0" y="447.0" width="4.0" height="9.8" fill="#6aa3d8"/>
<rect x="1577.0" y="447.0" width="2.4" height="9.8" fill="#e4eef8"/>
<rect x="1750.0" y="438.4" width="2.9" height="18.4" fill="#a9c8e8"/>
<rect x="1662.0" y="418.6" width="2.7" height="19.4" fill="#8ab3dc"/>
<rect x="1662.0" y="416.4" width="2.7" height="2.2" fill="#d6e4f3"/>
<rect x="1664.7" y="423.0" width="3.0" height="18.0" fill="#d3e2f2"/>
<rect x="1661.0" y="437.9" width="6.7" height="3.1" fill="#c9dcef"/>
<g stroke="#000" stroke-width="7.4" fill="none">
<path d="M183.1 1389.5H890"/>
<path d="M928 1389.5H1792.2"/>
<path d="M186.8 1389.5V1414.8"/>
<path d="M508.9 1389.5V1414.8"/>
<path d="M830.5 1389.5V1414.8"/>
<path d="M1127.2 1389.5V1414.8"/>
<path d="M1382.3 1389.5V1414.8"/>
<path d="M1637.7 1389.5V1414.8"/>
<path d="M347.7 1389.5V1402"/>
<path d="M669.7 1389.5V1402"/>
<path d="M999.6 1389.5V1402"/>
<path d="M1254.7 1389.5V1402"/>
<path d="M1510.0 1389.5V1402"/>
<path d="M1765.4 1389.5V1402"/>
<path d="M881 1413.9L908.6 1364.5M909.5 1413.9L936.6 1364.5" stroke-width="7.6"/>
</g>
<text class="ax" transform="translate(186.8 1475) scale(1 1.035)">4.0</text>
<text class="ax" transform="translate(508.9 1475) scale(1 1.035)">3.5</text>
<text class="ax" transform="translate(830.5 1475) scale(1 1.035)">3.0</text>
<text class="ax" transform="translate(1127.2 1475) scale(1 1.035)">2.0</text>
<text class="ax" transform="translate(1382.3 1475) scale(1 1.035)">1.5</text>
<text class="ax" transform="translate(1637.7 1475) scale(1 1.035)">1.0</text>
<text transform="translate(989 1583.4) scale(1 0.985)" text-anchor="middle" style="font-weight:bold;font-size:66.4px">ppm</text>
<text class="lb" transform="translate(30.3 655.9) scale(1 1.035)">12 % PAMPS</text>
<text class="lb" transform="translate(38.2 1227.9) scale(1.012 1.035)">25 % PAMPS</text>
<text transform="translate(490.8 388) scale(1 1.03)" style="font-size:36px">CD<tspan dy="17.6">3</tspan><tspan dy="-17.6">OD</tspan></text>
<text class="pk" x="402.3" y="172.6">g</text>
<text class="pk" x="739.8" y="674.2">d</text>
<text class="pk" x="1115.2" y="605.7">a</text>
<text class="pk" x="1168.7" y="605.7">e</text>
<text class="pk" x="1318.2" y="534.1">b</text>
<text class="pk" x="1370.3" y="534.1">c</text>
<text class="pk" x="1656.2" y="402.3">f</text>
</svg></body></html>
